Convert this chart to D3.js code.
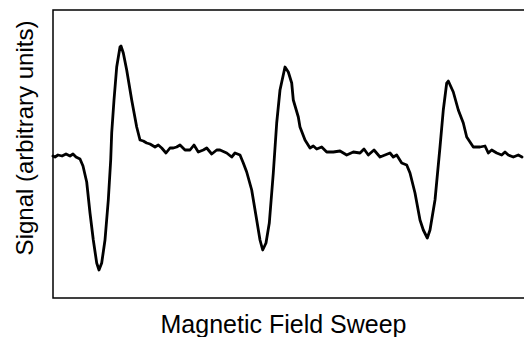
<!DOCTYPE html>
<html>
<head>
<meta charset="utf-8">
<script src="https://cdn.jsdelivr.net/npm/d3@7"></script>
<style>
  body { margin: 0; background: #fff; overflow: hidden; }
  svg { display: block; }
</style>
</head>
<body>
<div id="chart"></div>
<script>
// field sweep position (arbitrary) and measured signal (arbitrary units)
const field = [0, 2, 5, 9, 13, 17, 20, 23, 27, 30, 33.7, 37, 40.3, 43.7, 46, 48.7, 52, 55.3, 57.7, 58.7,
  61, 63.7, 67, 68, 70.3, 73.7, 78.7, 83.7, 87, 90.3, 93.7, 97, 102, 105.3, 108.7, 113, 117, 120.3, 123.7, 127,
  132, 137, 141, 145.3, 150.3, 153.7, 158.7, 163.7, 167, 173.7, 178.7, 182, 187, 190.3, 193.7, 198.7, 203.7, 207,
  209.7, 213, 216.3, 220.3, 223.7, 227, 232, 235.3, 238.7, 240.3, 245.3, 247, 252, 257, 260.3, 263.7, 268.7, 273.7,
  280.3, 287, 293.7, 300.3, 307, 311, 315.3, 321, 327, 332, 337, 340.3, 343.7, 348.7, 353.7, 357, 362, 367,
  370.3, 374.3, 377, 382, 387, 390.3, 393.7, 395.3, 400.3, 405.3, 410.3, 413.7, 417, 420.3, 427, 432, 435.3, 438.7,
  443.7, 448.7, 452, 455.3, 460.3, 465.3, 469];
const signal = [-2, -3, -1, -2, 0, -2, 0, -3, -5, -12, -28, -59, -86, -109, -116, -109, -86, -46, -6, 21,
  54, 87, 107, 108, 101, 84, 54, 27, 14, 13, 11, 10, 7, 9, 6, 1, 6, 6, 7, 9,
  4, 4, 9, 2, 4, 6, 0, 4, 4, 1, -3, 1, -1, -9, -18, -36, -66, -86,
  -96, -89, -69, -19, 31, 64, 87, 82, 71, 54, 37, 27, 14, 6, 8, 5, 7, 2,
  2, 3, -1, 2, 1, 5, -1, 4, -3, -1, 1, -3, -1, -9, -11, -19, -39, -66,
  -76, -84, -76, -46, 7, 44, 71, 73, 62, 44, 31, 17, 12, 7, 7, 8, 1, 4,
  1, -1, 2, -1, -3, -1, -3];

const xLabel = "Magnetic Field Sweep";
const yLabel = "Signal (arbitrary units)";

const W = 524, H = 337;
const margin = { top: 10, right: -12, bottom: 39, left: 53 };
const width = W - margin.left - margin.right;
const height = H - margin.top - margin.bottom;

const data = field.map((f, i) => ({ field: f, signal: signal[i] }));

const svg = d3.select("#chart").append("svg")
  .attr("width", W)
  .attr("height", H);

const g = svg.append("g")
  .attr("transform", `translate(${margin.left},${margin.top})`);

const x = d3.scaleLinear().domain([0, 475]).range([0, 475]);
const y = d3.scaleLinear().domain([-144, 144]).range([height, 0]);

const line = d3.line()
  .x(d => x(d.field))
  .y(d => y(d.signal));

g.append("path")
  .datum(data)
  .attr("fill", "none")
  .attr("stroke", "#000")
  .attr("stroke-width", 2.8)
  .attr("stroke-linejoin", "round")
  .attr("stroke-linecap", "round")
  .attr("d", line);

// frame; right side runs past the window edge as in the original crop
g.append("rect")
  .attr("x", 0)
  .attr("y", 0)
  .attr("width", width)
  .attr("height", height)
  .attr("fill", "none")
  .attr("stroke", "#000")
  .attr("stroke-width", 1.5);

svg.append("text")
  .attr("x", 283.5)
  .attr("y", 333)
  .attr("text-anchor", "middle")
  .attr("font-family", "Liberation Sans, Arial, sans-serif")
  .attr("font-size", "25px")
  .attr("fill", "#000")
  .text(xLabel);

svg.append("text")
  .attr("transform", "translate(33,138) rotate(-90)")
  .attr("text-anchor", "middle")
  .attr("font-family", "Liberation Sans, Arial, sans-serif")
  .attr("font-size", "24px")
  .attr("fill", "#000")
  .text(yLabel);
</script>
</body>
</html>
